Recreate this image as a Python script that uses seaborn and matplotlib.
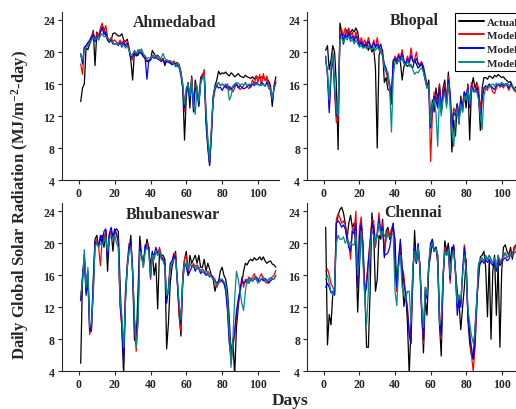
import numpy as np
import pandas as pd
import matplotlib
matplotlib.use('Agg')
import matplotlib.pyplot as plt
import seaborn as sns

# day index and series
days = np.arange(1, 111)
series_names = ['Actual', 'Model 1', 'Model 2', 'Model 3']
series_colors = ['black', 'red', 'blue', '#008b8b']

# ---------------- Ahmedabad ----------------
ahm_actual = [13.8, 15.5, 16.0, 20.5, 20.3, 21.0, 21.5, 22.7, 18.3, 22.5,
              22.0, 22.5, 23.2, 23.0, 22.0, 21.5, 21.2, 21.5, 22.3, 22.4,
              22.2, 22.0, 22.0, 22.3, 21.5, 21.3, 21.6, 20.5, 19.0, 16.5,
              20.0, 19.5, 19.6, 20.0, 19.8, 19.5, 19.2, 18.8, 18.8, 19.0,
              20.2, 19.8, 19.5, 19.6, 19.3, 19.0, 19.2, 18.3, 19.0, 18.8,
              18.9, 18.6, 18.8, 18.5, 18.7, 18.2, 17.5, 15.5, 9.0, 14.5,
              16.2, 13.0, 17.0, 12.5, 16.5, 15.0, 13.2, 16.8, 17.2, 17.4,
              11.0, 8.0, 5.8, 9.5, 14.5, 15.8, 16.5, 17.6, 17.2, 17.4,
              17.3, 17.5, 17.2, 17.0, 17.4, 17.2, 16.9, 17.1, 17.3, 17.0,
              16.9, 16.8, 17.1, 16.9, 16.8, 16.7, 16.9, 16.6, 17.0, 16.8,
              16.7, 16.9, 16.8, 16.6, 16.5, 16.4, 15.8, 13.2, 15.8, 16.9]
ahm_model1 = [18.5, 17.2, 20.5, 20.8, 21.0, 21.5, 22.0, 22.5, 21.5, 22.3,
              22.0, 23.0, 23.6, 22.5, 23.3, 21.8, 21.5, 21.8, 21.3, 21.5,
              21.2, 21.0, 21.5, 21.0, 21.5, 20.8, 21.3, 20.5, 19.5, 19.0,
              20.2, 19.8, 20.0, 20.3, 20.0, 19.6, 19.5, 19.0, 18.8, 19.2,
              19.6, 19.5, 19.3, 19.5, 19.2, 19.0, 19.1, 18.8, 19.0, 18.8,
              18.7, 18.5, 18.9, 18.3, 18.4, 18.5, 17.5, 16.0, 12.5, 15.5,
              16.0, 14.5, 16.8, 13.5, 16.0, 15.5, 14.0, 16.5, 17.0, 17.8,
              12.5, 9.0, 7.0, 10.0, 14.0, 15.2, 15.8, 16.2, 15.8, 16.0,
              15.8, 15.5, 16.0, 15.2, 15.6, 15.0, 15.5, 16.0, 15.7, 15.3,
              15.5, 15.8, 16.2, 15.7, 15.4, 15.8, 16.5, 16.0, 17.0, 16.2,
              17.2, 15.8, 17.3, 16.4, 17.0, 16.0, 15.5, 14.0, 15.5, 16.5]
ahm_model2 = [19.8, 18.5, 20.6, 20.8, 21.2, 21.4, 21.8, 22.2, 21.3, 22.0,
              21.5, 22.5, 23.0, 22.2, 22.5, 21.8, 21.2, 21.5, 21.0, 21.0,
              21.0, 20.8, 21.2, 20.6, 21.3, 20.5, 21.0, 20.2, 19.2, 19.5,
              20.0, 19.6, 19.8, 20.0, 19.8, 19.4, 19.2, 16.6, 19.0, 19.0,
              19.4, 19.2, 19.3, 19.1, 19.0, 18.8, 19.0, 18.6, 18.8, 18.7,
              18.6, 18.4, 18.6, 18.2, 18.3, 18.0, 17.0, 15.5, 13.0, 15.0,
              15.8, 14.0, 16.5, 13.0, 15.5, 15.2, 13.5, 16.2, 16.8, 17.0,
              12.0, 8.5, 6.0, 9.8, 14.2, 15.5, 15.8, 15.5, 15.6, 15.2,
              15.6, 15.8, 15.4, 15.7, 15.3, 15.5, 15.8, 16.0, 15.5, 15.8,
              15.6, 15.4, 15.5, 15.7, 15.9, 15.6, 16.0, 15.8, 16.2, 16.0,
              15.8, 16.2, 16.0, 15.7, 16.3, 15.5, 15.2, 13.8, 15.5, 16.2]
ahm_model3 = [19.5, 19.0, 20.2, 20.5, 20.8, 21.2, 21.5, 21.8, 21.5, 21.8,
              21.6, 22.0, 22.3, 21.9, 22.0, 21.7, 21.4, 21.3, 21.2, 21.0,
              21.0, 20.9, 21.0, 20.8, 20.9, 20.6, 20.8, 20.2, 19.6, 19.8,
              20.1, 19.8, 20.3, 20.0, 20.4, 19.8, 19.5, 19.2, 19.3, 19.2,
              19.5, 19.3, 19.6, 19.4, 19.2, 19.3, 19.8, 19.2, 19.0, 18.9,
              18.9, 18.7, 18.5, 18.3, 18.6, 18.1, 17.3, 16.0, 13.5, 15.5,
              16.0, 14.5, 16.5, 13.5, 12.2, 15.8, 13.8, 16.0, 16.8, 17.0,
              12.5, 9.0, 6.5, 10.5, 14.5, 15.5, 16.0, 16.2, 15.8, 16.0,
              15.8, 16.0, 15.9, 14.0, 14.5, 15.8, 16.0, 16.2, 16.1, 15.9,
              16.0, 15.9, 16.1, 15.8, 16.0, 15.9, 16.1, 16.0, 15.9, 16.0,
              15.8, 16.0, 15.9, 15.8, 16.0, 15.6, 15.3, 14.2, 15.5, 16.0]

# ---------------- Bhopal ----------------
bho_actual = [20.2, 20.8, 17.8, 19.0, 20.8, 20.0, 16.0, 7.8, 23.6, 22.5,
              21.0, 22.0, 22.8, 22.0, 22.5, 22.8, 22.5, 23.0, 22.5, 21.0,
              21.2, 20.5, 20.8, 21.2, 20.2, 20.8, 20.0, 20.5, 18.0, 8.0,
              19.5, 20.5, 20.2, 16.2, 16.8, 15.3, 15.2, 13.5, 19.0, 19.2,
              18.5, 19.0, 18.8, 16.5, 18.2, 18.5, 18.2, 18.4, 18.2, 18.0,
              19.0, 18.5, 18.0, 18.2, 18.6, 17.5, 16.5, 15.5, 16.5, 11.0,
              14.0, 12.5, 15.5, 14.0, 16.0, 12.5, 15.5, 16.5, 13.5, 17.5,
              14.0, 7.5, 11.5, 9.5, 13.5, 11.0, 14.5, 12.5, 15.0, 13.0,
              16.0, 9.0, 15.5, 16.8, 15.5, 16.2, 14.5, 10.2, 15.5, 16.8,
              16.8, 16.6, 17.0, 16.9, 16.7, 17.1, 16.9, 17.2, 17.0, 16.8,
              16.9, 16.6, 16.4, 16.2, 16.3, 15.8, 15.4, 15.6, 16.0, 15.8]
bho_model1 = [19.0, 17.5, 13.0, 17.5, 20.0, 15.0, 11.2, 11.5, 22.5, 22.8,
              22.0, 23.0, 22.2, 23.0, 22.0, 22.5, 21.5, 22.5, 21.8, 21.0,
              21.8, 21.0, 21.5, 20.8, 21.8, 21.0, 20.5, 21.5, 20.5, 21.8,
              20.5, 20.0, 19.5, 18.0, 17.5, 16.5, 15.5, 14.5, 18.5, 19.5,
              19.0, 19.8, 19.2, 20.3, 19.0, 18.5, 19.5, 18.8, 20.5, 19.0,
              19.0, 20.0, 18.6, 18.5, 18.8, 18.2, 17.0, 15.5, 16.0, 6.3,
              12.0, 15.0, 14.5, 13.5, 16.0, 13.0, 15.0, 16.0, 14.0, 17.0,
              15.0, 11.0, 13.0, 12.5, 13.5, 12.0, 14.0, 13.5, 15.0, 14.0,
              15.8, 13.5, 16.2, 15.5, 15.0, 16.0, 15.5, 13.0, 14.5, 15.5,
              15.5, 15.2, 16.0, 15.6, 15.0, 14.8, 15.5, 16.0, 15.6, 15.8,
              15.5, 16.0, 15.8, 15.2, 15.8, 15.6, 15.2, 15.0, 15.4, 15.6]
bho_model2 = [19.5, 17.0, 12.4, 17.0, 19.5, 15.5, 12.0, 12.5, 22.0, 22.3,
              21.5, 22.2, 21.8, 22.5, 21.6, 22.0, 21.3, 22.0, 21.5, 20.8,
              21.3, 20.8, 21.0, 20.6, 21.3, 20.8, 20.5, 21.2, 20.6, 21.0,
              20.5, 21.0, 19.8, 18.5, 18.0, 17.0, 16.0, 14.5, 18.8, 19.2,
              18.8, 19.5, 19.0, 19.8, 18.8, 18.5, 19.2, 18.6, 19.6, 18.8,
              18.8, 19.2, 18.5, 18.3, 18.6, 18.0, 17.0, 15.8, 15.5, 10.5,
              13.0, 14.5, 14.0, 13.0, 15.5, 12.5, 14.5, 15.5, 13.5, 16.5,
              14.5, 10.5, 12.5, 12.0, 13.5, 11.5, 14.0, 13.0, 15.0, 14.5,
              15.5, 13.0, 15.8, 15.2, 15.0, 15.5, 14.5, 11.5, 14.0, 15.5,
              15.8, 15.5, 16.0, 15.7, 15.5, 15.3, 15.8, 16.0, 15.8, 16.0,
              15.8, 16.0, 15.9, 15.5, 16.0, 15.7, 15.3, 15.2, 15.5, 15.6]
bho_model3 = [19.0, 17.5, 14.0, 18.0, 19.8, 16.0, 12.5, 12.0, 21.5, 21.8,
              21.2, 21.8, 21.5, 22.0, 21.3, 21.6, 21.0, 21.5, 21.0, 20.6,
              20.8, 20.5, 20.6, 20.4, 20.8, 20.5, 20.3, 20.6, 20.2, 20.6,
              20.2, 20.4, 19.5, 18.0, 17.5, 17.5, 15.5, 10.0, 17.0, 18.8,
              18.6, 19.0, 18.8, 19.2, 18.5, 18.4, 18.8, 18.2, 18.5, 17.8,
              17.2, 17.5, 17.4, 17.8, 18.0, 17.5, 16.5, 15.5, 15.8, 11.0,
              13.5, 14.0, 12.5, 8.2, 14.5, 12.0, 14.0, 15.0, 13.0, 16.0,
              13.5, 10.0, 8.2, 11.5, 13.0, 11.0, 13.5, 12.5, 14.5, 14.0,
              15.2, 13.5, 15.5, 15.0, 15.2, 15.0, 14.0, 12.0, 10.3, 14.5,
              15.5, 15.8, 15.6, 15.9, 16.0, 15.7, 16.1, 15.8, 16.0, 16.2,
              16.0, 15.8, 16.1, 15.9, 15.7, 15.8, 15.4, 15.2, 15.6, 15.8]

# ---------------- Bhubaneswar ----------------
bhu_actual = [5.0, 15.5, 18.5, 15.0, 16.5, 10.0, 9.0, 15.5, 20.5, 21.0,
              19.5, 20.5, 21.0, 19.5, 21.5, 16.5, 21.0, 21.5, 19.0, 21.5,
              21.8, 21.5, 15.0, 9.0, 3.5, 14.0, 17.0, 19.0, 21.0, 16.0,
              8.0, 7.5, 14.0, 20.9, 18.5, 17.5, 19.0, 20.5, 19.5, 17.0,
              19.0, 16.0, 17.5, 11.8, 19.0, 18.5, 18.5, 18.0, 6.8, 10.0,
              15.0, 17.0, 18.0, 19.0, 15.0, 11.0, 8.4, 16.0, 18.0, 19.0,
              16.0, 18.5, 17.5, 18.0, 18.5, 17.5, 18.5, 17.0, 17.0, 18.0,
              16.5, 17.5, 16.8, 16.0, 15.5, 14.0, 15.0, 15.2, 16.5, 17.0,
              16.0, 15.5, 14.0, 10.5, 6.0, 8.0, 3.5, 9.5, 12.0, 14.5,
              15.0, 16.5, 17.5, 17.3, 17.8, 18.0, 17.8, 18.2, 17.9, 18.0,
              18.3, 17.9, 18.3, 17.8, 17.5, 17.7, 17.8, 17.4, 17.3, 17.0]
bhu_model1 = [13.0, 15.5, 18.5, 14.0, 16.0, 8.6, 9.5, 14.0, 20.0, 20.5,
              19.5, 17.2, 20.5, 20.5, 21.5, 18.5, 21.0, 21.5, 20.5, 21.5,
              21.0, 20.5, 12.0, 9.5, 6.5, 13.5, 17.5, 20.0, 20.0, 17.0,
              10.0, 6.5, 10.5, 19.5, 18.5, 17.0, 19.5, 20.0, 19.5, 15.5,
              18.5, 18.0, 19.0, 18.5, 19.5, 18.5, 18.0, 17.5, 13.0, 14.0,
              17.0, 17.5, 18.8, 18.5, 15.5, 11.0, 9.0, 15.5, 18.0, 18.5,
              16.5, 17.5, 17.0, 17.5, 17.0, 17.3, 17.0, 16.5, 16.8, 16.5,
              16.0, 16.5, 16.2, 16.0, 15.8, 15.5, 14.5, 15.0, 15.2, 15.5,
              15.0, 14.5, 12.0, 8.0, 5.0, 7.0, 8.5, 11.0, 12.5, 13.5,
              15.8, 14.5, 15.5, 15.0, 15.8, 15.3, 15.8, 16.2, 15.5, 15.2,
              15.8, 16.2, 15.5, 15.2, 15.0, 15.3, 15.6, 15.8, 16.0, 16.6]
bhu_model2 = [12.8, 16.0, 18.0, 13.5, 15.5, 9.0, 9.8, 14.5, 20.2, 20.0,
              19.8, 21.0, 20.0, 21.5, 21.8, 18.0, 21.2, 22.0, 20.8, 21.8,
              21.2, 20.0, 12.5, 10.0, 5.0, 13.0, 17.0, 19.5, 20.2, 16.5,
              10.5, 7.5, 11.0, 19.8, 18.2, 17.5, 19.8, 19.5, 19.5, 15.8,
              18.8, 18.5, 19.5, 18.8, 19.0, 18.2, 18.0, 17.5, 12.5, 14.5,
              17.5, 17.8, 18.5, 18.2, 15.0, 12.0, 10.0, 15.0, 17.5, 17.0,
              16.0, 16.5, 17.0, 17.2, 16.5, 17.0, 16.8, 16.2, 16.5, 16.3,
              16.0, 16.2, 15.8, 16.0, 15.5, 15.3, 15.0, 15.3, 15.5, 15.2,
              15.0, 14.0, 11.5, 7.5, 6.0, 7.5, 9.0, 11.5, 13.0, 14.0,
              15.5, 15.0, 15.2, 15.5, 15.0, 15.6, 15.3, 15.5, 15.8, 15.5,
              15.2, 15.6, 15.3, 15.6, 15.4, 15.0, 15.3, 15.5, 15.6, 15.9]
bhu_model3 = [13.5, 15.0, 19.2, 14.5, 17.0, 9.5, 10.0, 13.5, 19.5, 20.0,
              19.5, 20.0, 19.8, 20.2, 20.8, 19.0, 20.5, 21.0, 20.5, 21.0,
              20.0, 19.5, 13.0, 11.0, 7.0, 12.5, 17.0, 19.0, 19.5, 16.5,
              11.0, 7.0, 10.0, 19.0, 18.5, 17.0, 19.0, 19.5, 19.0, 16.0,
              18.5, 18.0, 19.0, 18.5, 19.0, 18.0, 17.8, 17.0, 13.5, 14.0,
              17.0, 17.5, 18.0, 18.0, 15.5, 12.5, 10.5, 15.5, 17.5, 17.5,
              16.8, 17.5, 17.2, 17.0, 17.2, 16.8, 17.0, 16.5, 16.5, 16.5,
              16.2, 16.0, 16.2, 15.8, 15.5, 15.2, 14.8, 15.0, 15.5, 15.5,
              15.2, 14.8, 13.0, 9.0, 4.5, 8.0, 13.0, 16.5, 15.5, 14.0,
              12.5, 11.6, 14.0, 15.5, 15.0, 15.5, 15.2, 15.8, 15.5, 15.0,
              15.3, 15.6, 15.8, 15.4, 15.2, 15.5, 15.7, 15.6, 15.5, 16.0]

# ---------------- Chennai ----------------
che_actual = [22.0, 7.3, 11.1, 9.8, 13.7, 13.8, 22.5, 23.5, 24.2, 24.5,
              23.8, 22.5, 20.5, 22.5, 23.5, 22.0, 22.5, 19.0, 11.4, 17.0,
              22.5, 20.0, 14.0, 7.0, 7.0, 14.0, 23.8, 21.0, 14.0, 15.5,
              21.0, 20.5, 23.0, 18.2, 21.5, 22.0, 20.5, 21.5, 22.0, 20.5,
              14.0, 17.5, 19.5, 16.0, 12.1, 14.0, 10.0, 3.5, 10.0, 15.0,
              21.6, 17.5, 19.0, 17.5, 12.0, 6.3, 13.0, 11.0, 17.0, 18.5,
              20.0, 19.0, 19.5, 17.5, 10.0, 5.9, 15.0, 20.3, 19.0, 20.0,
              17.5, 19.5, 19.5, 16.5, 14.0, 12.5, 9.2, 12.0, 14.5, 18.0,
              10.5, 7.5, 6.0, 5.5, 9.5, 13.0, 15.5, 18.3, 18.5, 19.0,
              17.0, 10.8, 18.0, 8.0, 16.5, 18.5, 11.0, 17.5, 7.0, 16.5,
              19.5, 19.8, 19.0, 18.5, 19.5, 18.0, 19.5, 19.8, 19.5, 19.0]
che_model1 = [16.5, 16.8, 16.0, 15.0, 14.5, 14.0, 23.0, 23.7, 23.2, 22.5,
              22.8, 22.3, 21.0, 20.0, 18.0, 22.0, 21.5, 24.0, 15.0, 22.0,
              23.3, 19.0, 14.0, 15.5, 18.0, 20.5, 23.0, 22.8, 19.5, 21.5,
              23.8, 21.0, 22.5, 19.0, 20.5, 21.5, 21.0, 21.8, 22.5, 17.0,
              14.0, 17.5, 20.0, 17.0, 16.0, 13.5, 12.0, 9.0, 7.5, 16.5,
              19.5, 18.0, 19.8, 17.0, 11.0, 7.5, 14.5, 13.5, 17.0, 19.5,
              20.5, 19.0, 19.5, 18.5, 11.5, 8.0, 16.0, 19.5, 18.5, 19.0,
              15.0, 18.5, 19.5, 16.0, 12.0, 13.5, 12.5, 16.0, 19.8, 17.5,
              11.0, 9.0, 6.0, 4.0, 7.0, 12.0, 17.5, 17.5, 18.0, 17.8,
              18.2, 18.0, 18.5, 18.0, 17.5, 18.2, 17.0, 18.5, 17.5, 18.0,
              18.5, 18.8, 18.2, 18.5, 19.0, 18.8, 19.2, 19.5, 19.0, 15.5]
che_model2 = [14.5, 15.0, 14.5, 13.8, 14.0, 13.5, 22.5, 22.8, 22.5, 22.0,
              22.3, 21.8, 20.5, 19.5, 19.0, 21.5, 21.2, 22.5, 14.5, 21.0,
              22.5, 18.5, 13.5, 14.5, 17.5, 20.0, 22.5, 22.0, 20.0, 21.0,
              23.0, 21.5, 22.0, 18.5, 18.6, 18.8, 19.5, 21.0, 22.5, 17.5,
              14.5, 18.0, 20.5, 17.0, 15.0, 13.5, 11.5, 8.5, 7.5, 16.5,
              19.5, 17.5, 20.0, 16.8, 11.5, 8.0, 14.0, 13.0, 17.5, 20.0,
              20.5, 19.0, 19.5, 18.5, 10.5, 8.5, 15.5, 19.0, 18.5, 19.5,
              15.5, 19.0, 19.8, 16.5, 11.0, 13.0, 12.0, 16.5, 19.5, 17.0,
              11.0, 8.5, 7.0, 5.5, 7.5, 12.5, 17.0, 17.5, 17.8, 17.5,
              18.0, 17.6, 18.0, 17.5, 17.2, 17.8, 16.5, 18.0, 17.2, 17.6,
              18.0, 18.2, 17.8, 18.0, 18.6, 18.3, 18.8, 19.0, 18.5, 17.0]
che_model3 = [15.5, 16.0, 15.0, 14.0, 13.5, 14.5, 20.0, 21.0, 20.5, 20.5,
              20.8, 20.0, 20.5, 19.8, 20.2, 19.8, 19.8, 21.0, 16.0, 18.0,
              21.5, 17.5, 13.0, 9.8, 14.0, 19.5, 21.5, 21.0, 20.0, 21.0,
              22.5, 21.0, 21.5, 21.0, 20.5, 21.0, 20.8, 21.0, 21.2, 14.0,
              12.2, 17.0, 18.5, 14.5, 13.5, 13.0, 14.0, 14.0, 10.0, 17.0,
              19.0, 17.8, 19.5, 17.0, 12.0, 9.5, 14.5, 13.5, 17.5, 19.5,
              20.0, 19.0, 19.3, 18.5, 9.8, 10.5, 16.0, 19.0, 18.5, 19.2,
              16.0, 18.5, 19.0, 16.5, 12.5, 13.5, 13.0, 16.0, 18.5, 16.5,
              12.0, 10.0, 8.5, 7.5, 9.0, 13.0, 17.5, 18.0, 18.2, 17.8,
              18.5, 18.0, 18.5, 18.0, 17.5, 18.2, 17.0, 18.5, 17.8, 18.0,
              18.2, 18.8, 18.3, 18.5, 18.6, 18.4, 18.8, 19.0, 18.6, 17.5]


def make_frame(values):
    parts = []
    for name, vals in zip(series_names, values):
        parts.append(pd.DataFrame({'Day': days, 'Radiation': vals, 'Series': name}))
    return pd.concat(parts, ignore_index=True)


def draw_panel(ax, values, title, tx, ty, show_legend=False):
    df = make_frame(values)
    sns.lineplot(data=df, x='Day', y='Radiation', hue='Series',
                 hue_order=series_names, palette=series_colors,
                 linewidth=0.9, ax=ax, legend=show_legend)
    ax.set_xlim(-9.5, 112)
    ax.set_ylim(4, 25)
    ax.set_xticks([0, 20, 40, 60, 80, 100])
    ax.set_yticks([4, 8, 12, 16, 20, 24])
    ax.set_xlabel('')
    ax.set_ylabel('')
    ax.tick_params(length=3, width=0.8, labelsize=8.5, pad=2)
    sns.despine(ax=ax)
    ax.text(tx, ty, title, transform=ax.transAxes, ha='center', va='center',
            fontsize=11.5, fontweight='bold')
    if show_legend:
        # legend box runs past the right edge, as in the source figure
        handles, labels = ax.get_legend_handles_labels()
        leg = ax.legend(handles, labels, loc='upper left',
                        bbox_to_anchor=(0.685, 0.995), borderaxespad=0,
                        fancybox=False, edgecolor='black', framealpha=1,
                        fontsize=8, handlelength=2.3, handletextpad=0.25,
                        labelspacing=0.35, borderpad=0.35)
        leg.get_frame().set_linewidth(0.8)
        for line in leg.get_lines():
            line.set_linewidth(1.4)


sns.set_style('ticks')
plt.rcParams['font.family'] = ['Liberation Serif', 'DejaVu Serif']
plt.rcParams['font.weight'] = 'bold'
plt.rcParams['mathtext.fontset'] = 'custom'
plt.rcParams['mathtext.rm'] = 'Liberation Serif:bold'
plt.rcParams['mathtext.default'] = 'rm'
plt.rcParams['axes.linewidth'] = 0.8

fig = plt.figure(figsize=(5.16, 4.10), dpi=100)
ax1 = fig.add_axes([0.120, 0.5585, 0.4215, 0.4098])
ax2 = fig.add_axes([0.595, 0.5585, 0.4186, 0.4098])
ax3 = fig.add_axes([0.120, 0.092, 0.4215, 0.4098])
ax4 = fig.add_axes([0.595, 0.092, 0.4186, 0.4098])

draw_panel(ax1, [ahm_actual, ahm_model1, ahm_model2, ahm_model3], 'Ahmedabad', 0.52, 0.94)
draw_panel(ax2, [bho_actual, bho_model1, bho_model2, bho_model3], 'Bhopal', 0.495, 0.95, show_legend=True)
draw_panel(ax3, [bhu_actual, bhu_model1, bhu_model2, bhu_model3], 'Bhubaneswar', 0.51, 0.937)
draw_panel(ax4, [che_actual, che_model1, che_model2, che_model3], 'Chennai', 0.49, 0.948)

fig.text(0.039, 0.5, 'Daily Global Solar Radiation (MJ/m$^{-2}$-day)', rotation=90,
         ha='center', va='center', fontsize=12, fontweight='bold')
fig.text(0.562, 0.022, 'Days', ha='center', va='center', fontsize=12.5, fontweight='bold')

fig.savefig('out.png', dpi=100)
